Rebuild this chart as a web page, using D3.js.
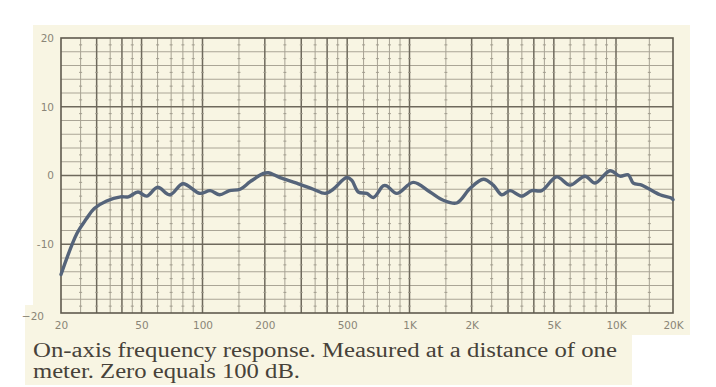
<!DOCTYPE html>
<html lang="en">
<head>
<meta charset="UTF-8">
<title>On-axis frequency response</title>
<script src="https://d3js.org/d3.v7.min.js"></script>
<style>
    body { margin: 0; background: #fff; }
    .tick text { font-family: "DejaVu Sans", sans-serif; font-size: 10.5px; fill: #8a8577; }
    .caption { font-family: "Liberation Serif", serif; font-size: 20px; fill: #474239; }
</style>
</head>
<body>
<div id="chart"></div>
<script>
const freqs = [20, 24, 26.7, 29.2, 33.6, 39.4, 43, 48, 53, 60, 69, 80, 97,
    109, 121, 135, 152, 170, 197, 208, 237, 285, 343, 391, 428, 497, 526, 566,
    621, 669, 747, 776, 868, 1043, 1257, 1458, 1693, 1963, 2277, 2545, 2796,
    3067, 3494, 3906, 4367, 5163, 5986, 7078, 7913, 9352, 10500, 11600, 12340,
    13670, 14810, 17080, 19690, 20000];
const levels = [-14.4, -8.4, -6.3, -4.8, -3.7, -3.1, -3.1, -2.4, -3.0, -1.7, -2.8, -1.2, -2.6,
    -2.2, -2.8, -2.2, -2.0, -0.9, 0.3, 0.4, -0.3, -1.1, -2.0, -2.6, -2.0, -0.3, -0.7, -2.4,
    -2.6, -3.2, -1.5, -1.5, -2.6, -1.0, -2.4, -3.6, -4.0, -1.9, -0.55, -1.4, -2.8,
    -2.2, -3.0, -2.2, -2.2, -0.2, -1.4, -0.1, -1.1, 0.7, -0.1, 0.1, -1.1,
    -1.4, -1.9, -2.8, -3.3, -3.5];

const xTicks = [20, 50, 100, 200, 500, 1000, 2000, 5000, 10000, 20000];
const xTickLabels = ["20", "50", "100", "200", "500", "1K", "2K", "5K", "10K", "20K"];
const yTicks = [-20, -10, 0, 10, 20];
const yTickLabels = ["\u221220", "-10", "0", "10", "20"];

// chart paper grid
const heavyFreqs = [30, 40, 50, 100, 200, 300, 400, 500, 1000, 2000, 3000, 4000, 5000, 10000];
const lightFreqs = [25, 35, 45, 60, 70, 80, 90, 150, 250, 350, 450, 600, 700, 800, 900,
    1500, 2500, 3500, 4500, 6000, 7000, 8000, 9000, 15000];
const heavyLevels = [-10, 0, 10];
const lightLevels = [-18, -16, -14, -12, -8, -6, -4, -2, 2, 4, 6, 8, 12, 14, 16, 18];
const markLevels = d3.range(-19, 20, 2);

const width = 716, height = 387;

// the paper is not quite logarithmic in the last octave
const x = d3.scaleLog()
    .domain([20, 100, 1000, 10000, 20000])
    .range([61, 202.5, 409.5, 616, 673]);
const y = d3.scaleLinear().domain([-20, 20]).range([313, 38]);

const svg = d3.select("#chart").append("svg")
    .attr("width", width)
    .attr("height", height);

// paper background
svg.append("rect").attr("x", 33).attr("y", 25).attr("width", 657).attr("height", 310).attr("fill", "#f8f5e3");
svg.append("rect").attr("x", 25).attr("y", 305).attr("width", 607).attr("height", 80).attr("fill", "#f8f5e3");

const grid = svg.append("g");

grid.selectAll(".hl").data(lightLevels).join("line")
    .attr("x1", x(20)).attr("x2", x(20000))
    .attr("y1", d => y(d)).attr("y2", d => y(d))
    .attr("stroke", "#aaa596").attr("stroke-width", 1);

grid.selectAll(".vl").data(lightFreqs).join("line")
    .attr("x1", d => x(d)).attr("x2", d => x(d))
    .attr("y1", y(20)).attr("y2", y(-20))
    .attr("stroke", "#a7a293").attr("stroke-width", 1);

grid.selectAll(".hh").data(heavyLevels).join("line")
    .attr("x1", x(20)).attr("x2", x(20000))
    .attr("y1", d => y(d)).attr("y2", d => y(d))
    .attr("stroke", "#6e695c").attr("stroke-width", 1.7);

grid.selectAll(".vh").data(heavyFreqs).join("line")
    .attr("x1", d => x(d)).attr("x2", d => x(d))
    .attr("y1", y(20)).attr("y2", y(-20))
    .attr("stroke", "#6e695c").attr("stroke-width", 1.5);

// little cross marks at the odd dB values
const marks = [];
lightFreqs.concat(heavyFreqs).forEach(f => markLevels.forEach(l => marks.push([f, l])));
grid.selectAll(".mk").data(marks).join("line")
    .attr("x1", d => x(d[0]) - 1.5).attr("x2", d => x(d[0]) + 1.5)
    .attr("y1", d => y(d[1])).attr("y2", d => y(d[1]))
    .attr("stroke", "#a19c8e").attr("stroke-width", 1);

grid.append("rect")
    .attr("x", x(20)).attr("y", y(20))
    .attr("width", x(20000) - x(20)).attr("height", y(-20) - y(20))
    .attr("fill", "none").attr("stroke", "#5f5a4e").attr("stroke-width", 1.6);

// axes (labels only)
const xAxis = svg.append("g")
    .attr("transform", `translate(0,${y(-20) + 6})`)
    .call(d3.axisBottom(x).tickValues(xTicks).tickFormat((d, i) => xTickLabels[i]).tickSize(0));
xAxis.select(".domain").remove();

const yAxis = svg.append("g")
    .attr("transform", `translate(${x(20) - 7},0)`)
    .call(d3.axisLeft(y).tickValues(yTicks).tickFormat((d, i) => yTickLabels[i]).tickSize(0).tickPadding(0));
yAxis.select(".domain").remove();
yAxis.selectAll(".tick").filter(d => d === -20).select("text")
    .attr("x", -10).attr("dy", "0.6em");

// response curve
const line = d3.line()
    .x((d, i) => x(freqs[i]))
    .y(d => y(d))
    .curve(d3.curveCatmullRom.alpha(0.5));

svg.append("path")
    .datum(levels)
    .attr("d", line)
    .attr("fill", "none")
    .attr("stroke", "#55647a")
    .attr("stroke-width", 3.4)
    .attr("stroke-linejoin", "round")
    .attr("stroke-linecap", "round");

// caption
svg.append("text").attr("class", "caption")
    .attr("x", 33).attr("y", 357)
    .attr("textLength", 584).attr("lengthAdjust", "spacingAndGlyphs")
    .text("On-axis frequency response. Measured at a distance of one");
svg.append("text").attr("class", "caption")
    .attr("x", 33).attr("y", 378)
    .attr("textLength", 267).attr("lengthAdjust", "spacingAndGlyphs")
    .text("meter. Zero equals 100 dB.");
</script>
</body>
</html>
